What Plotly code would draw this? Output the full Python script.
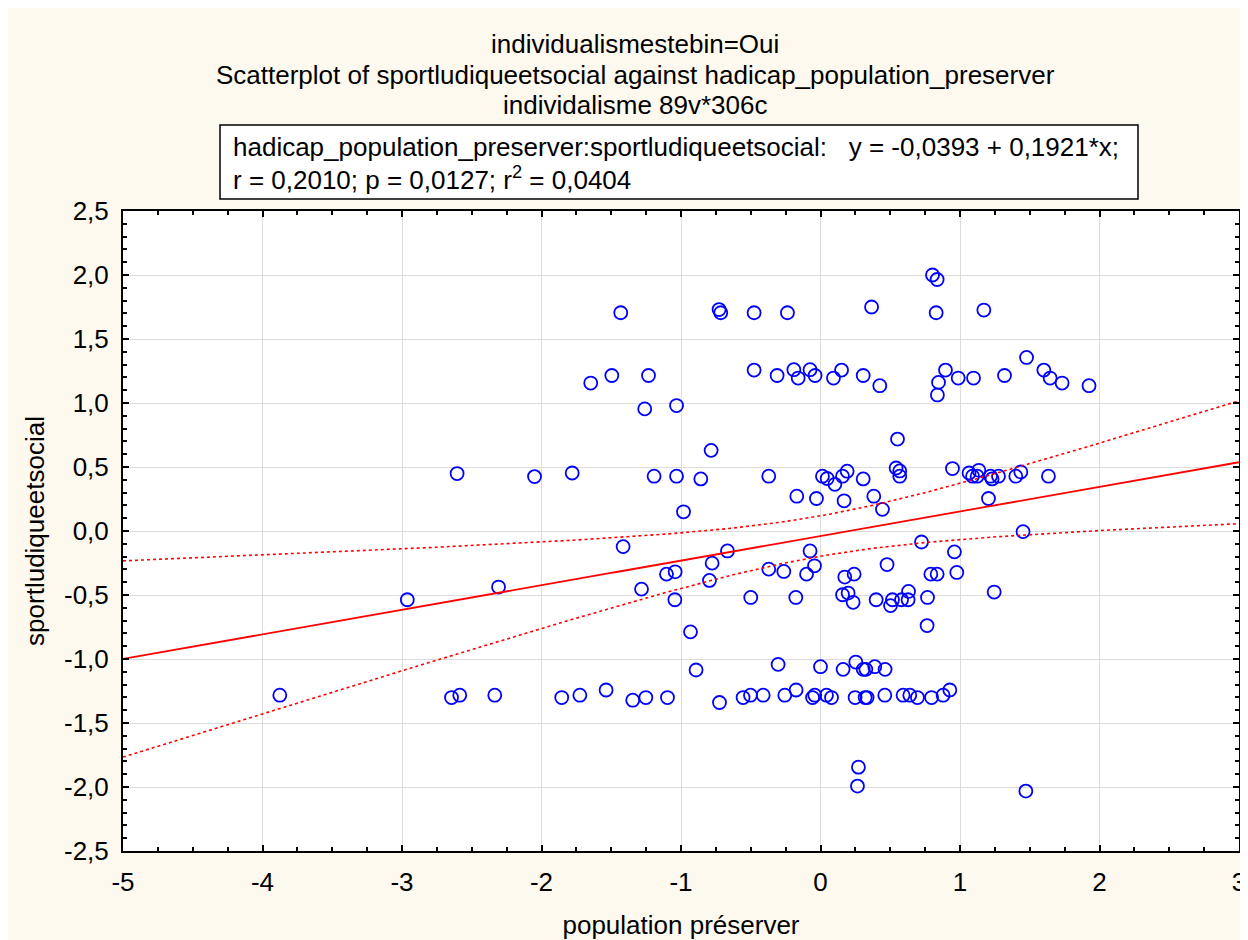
import numpy as np
import plotly.graph_objects as go

# ---------------- data ----------------
x_vals = [
    -1.432, -0.727, -0.715, -0.476, -0.237, 0.366, 0.803, 0.836, 0.829, 1.171,
    -1.647, -1.496, -1.233, -1.26, -1.032, -0.476, -0.311, -0.191, -0.16, -0.075,
    -0.039, 0.093, 0.151, 0.306, 0.425, 0.896, 0.846, 0.838, 0.987, 1.097,
    1.319, 1.477, 1.601, 1.646, 1.732, 1.925,
    -2.605, -2.05, -1.78, -1.193, -1.032, -0.858, -0.784, -0.371, 0.014, 0.048,
    0.103, 0.158, 0.191, 0.306, 0.542, 0.568, 0.568, 0.552, 0.946, 1.065,
    1.09, 1.135, 1.123, 1.219, 1.23, 1.276, 1.4, 1.436, 1.634, -0.17,
    -0.029, 0.169, 0.382, 0.444, 1.204, -0.982,
    0.724, 1.452, -2.962, -2.308, -1.415, -1.283, -1.104, -1.042, -1.044, -0.932,
    -0.777, -0.796, -0.667, -0.5, -0.371, -0.263, -0.177, -0.075, -0.043, -0.1,
    0.174, 0.241, 0.477, 0.96, 0.791, 0.836, 0.977, 1.245, 0.158, 0.198,
    0.234, 0.399, 0.502, 0.516, 0.581, 0.631, 0.628, 0.767, 0.764,
    -0.892, -0.304, 0.0, 0.162, 0.253, 0.306, 0.325, 0.389, 0.463,
    -3.876, -2.645, -2.586, -2.335, -1.855, -1.725, -1.537, -1.346, -1.252, -1.097,
    -0.724, -0.555, -0.502, -0.411, -0.256, -0.175, -0.057, -0.041, 0.043, 0.079,
    0.248, 0.32, 0.334, 0.461, 0.592, 0.64, 0.695, 0.796, 0.879, 0.927,
    0.272, 0.265, 1.472,
]
y_vals = [
    1.705, 1.73, 1.705, 1.705, 1.705, 1.75, 2.0, 1.965, 1.705, 1.726,
    1.156, 1.215, 1.215, 0.954, 0.98, 1.257, 1.215, 1.26, 1.195, 1.26,
    1.215, 1.195, 1.257, 1.215, 1.135, 1.257, 1.161, 1.063, 1.195, 1.195,
    1.215, 1.356, 1.257, 1.195, 1.156, 1.135,
    0.449, 0.425, 0.453, 0.428, 0.428, 0.407, 0.63, 0.428, 0.428, 0.41,
    0.365, 0.428, 0.467, 0.407, 0.492, 0.469, 0.428, 0.718, 0.488, 0.453,
    0.428, 0.474, 0.428, 0.428, 0.407, 0.428, 0.428, 0.461, 0.428, 0.272,
    0.254, 0.236, 0.272, 0.169, 0.254, 0.15,
    -0.086, -0.005, -0.537, -0.438, -0.122, -0.454, -0.337, -0.319, -0.537, -0.788,
    -0.251, -0.386, -0.156, -0.519, -0.298, -0.316, -0.519, -0.156, -0.272, -0.337,
    -0.36, -0.337, -0.262, -0.163, -0.337, -0.337, -0.324, -0.477, -0.498, -0.485,
    -0.557, -0.537, -0.583, -0.537, -0.537, -0.472, -0.537, -0.519, -0.739,
    -1.086, -1.042, -1.06, -1.081, -1.024, -1.081, -1.081, -1.06, -1.081,
    -1.283, -1.301, -1.283, -1.283, -1.301, -1.283, -1.242, -1.322, -1.301, -1.301,
    -1.34, -1.301, -1.283, -1.283, -1.283, -1.242, -1.301, -1.283, -1.283, -1.301,
    -1.301, -1.301, -1.301, -1.283, -1.283, -1.283, -1.301, -1.301, -1.283, -1.242,
    -1.845, -1.993, -2.032,
]

intercept = -0.0393
slope = 0.1921
t_crit = 1.976  # 95 % two-sided

x_tickvals = [-5, -4, -3, -2, -1, 0, 1, 2, 3]
x_ticktext = ["-5", "-4", "-3", "-2", "-1", "0", "1", "2", "3"]
y_tickvals = [-2.5, -2.0, -1.5, -1.0, -0.5, 0.0, 0.5, 1.0, 1.5, 2.0, 2.5]
y_ticktext = ["-2,5", "-2,0", "-1,5", "-1,0", "-0,5", "0,0", "0,5", "1,0", "1,5", "2,0", "2,5"]

title_lines = [
    "individualismestebin=Oui",
    "Scatterplot of sportludiqueetsocial against hadicap_population_preserver",
    "individalisme 89v*306c",
]
stats_text = ("hadicap_population_preserver:sportludiqueetsocial:   y = -0,0393 + 0,1921*x;<br>"
              "r = 0,2010; p = 0,0127; r<sup>2</sup> = 0,0404")
x_title = "population préserver"
y_title = "sportludiqueetsocial"

# ---------------- regression line + 95% confidence band ----------------
xa = np.array(x_vals)
ya = np.array(y_vals)
n = len(xa)
resid = ya - (intercept + slope * xa)
s = np.sqrt(np.sum(resid ** 2) / (n - 2))
xbar = xa.mean()
sxx = np.sum((xa - xbar) ** 2)
xl = np.linspace(-5, 3, 200)
yl = intercept + slope * xl
half = t_crit * s * np.sqrt(1.0 / n + (xl - xbar) ** 2 / sxx)

FONT = "Liberation Sans, Arial, sans-serif"
FS = 26

# layout geometry (figure pixels; the page adds an 8 px white margin top-left)
FIG_W, FIG_H = 1240, 932
M_L, M_R, M_T, M_B = 115, 9, 203, 89
PLOT_W = FIG_W - M_L - M_R
PLOT_H = FIG_H - M_T - M_B


def px_x(p):
    return (p - M_L) / PLOT_W


def px_y(p):
    return (FIG_H - M_B - p) / PLOT_H


fig = go.Figure()
fig.add_trace(go.Scatter(x=xa, y=ya, mode="markers",
                         marker=dict(symbol="circle-open", size=13, color="#0000FF",
                                     line=dict(width=1.8, color="#0000FF")),
                         showlegend=False, cliponaxis=False))
fig.add_trace(go.Scatter(x=xl, y=yl, mode="lines", line=dict(color="#FF0000", width=1.8),
                         showlegend=False))
fig.add_trace(go.Scatter(x=xl, y=yl + half, mode="lines",
                         line=dict(color="#FF0000", width=1.6, dash="dot"), showlegend=False))
fig.add_trace(go.Scatter(x=xl, y=yl - half, mode="lines",
                         line=dict(color="#FF0000", width=1.6, dash="dot"), showlegend=False))

axis_common = dict(showline=True, linecolor="black", linewidth=2, mirror="ticks",
                   ticks="inside", ticklen=6, tickwidth=2, tickcolor="black",
                   showgrid=True, gridcolor="#DCDCDC", gridwidth=1, zeroline=False,
                   automargin=False,
                   tickfont=dict(family=FONT, size=FS, color="black"))

fig.update_xaxes(range=[-5, 3], tickvals=x_tickvals, ticktext=x_ticktext,
                 minor=dict(dtick=0.25, ticks="inside", ticklen=4, tickwidth=1.5,
                            tickcolor="black", showgrid=False),
                 title=dict(text=x_title, font=dict(family=FONT, size=FS, color="black"),
                            standoff=23),
                 ticklabelstandoff=7, **axis_common)
fig.update_yaxes(range=[-2.5, 2.5], tickvals=y_tickvals, ticktext=y_ticktext,
                 minor=dict(dtick=0.1, ticks="inside", ticklen=4, tickwidth=1.5,
                            tickcolor="black", showgrid=False),
                 title=dict(text=y_title, font=dict(family=FONT, size=FS, color="black"),
                            standoff=12),
                 ticklabelstandoff=7, **axis_common)

annotations = []
for i, line in enumerate(title_lines):
    annotations.append(dict(text=line, xref="paper", yref="paper", x=px_x(627), y=1.0,
                            xanchor="center", yanchor="middle",
                            yshift=211 - 44 - 30.5 * i,
                            showarrow=False,
                            font=dict(family=FONT, size=FS, color="black")))
annotations.append(dict(text=stats_text, xref="paper", yref="paper",
                        x=px_x(223), y=1.0, xanchor="left", yanchor="bottom",
                        yshift=12, align="left", showarrow=False, height=67,
                        borderwidth=0, borderpad=2,
                        font=dict(family=FONT, size=FS, color="black")))

stats_box = dict(type="rect", xref="paper", yref="paper",
                 x0=px_x(212), x1=px_x(1130), y0=px_y(191), y1=px_y(117),
                 fillcolor="white", line=dict(color="black", width=1.5), layer="above")

fig.update_layout(
    width=FIG_W, height=FIG_H,
    margin=dict(l=M_L, r=M_R, t=M_T, b=M_B, autoexpand=False),
    paper_bgcolor="#FDF9EE", plot_bgcolor="white",
    annotations=annotations,
    shapes=[stats_box],
)

fig.write_html("out.html")
